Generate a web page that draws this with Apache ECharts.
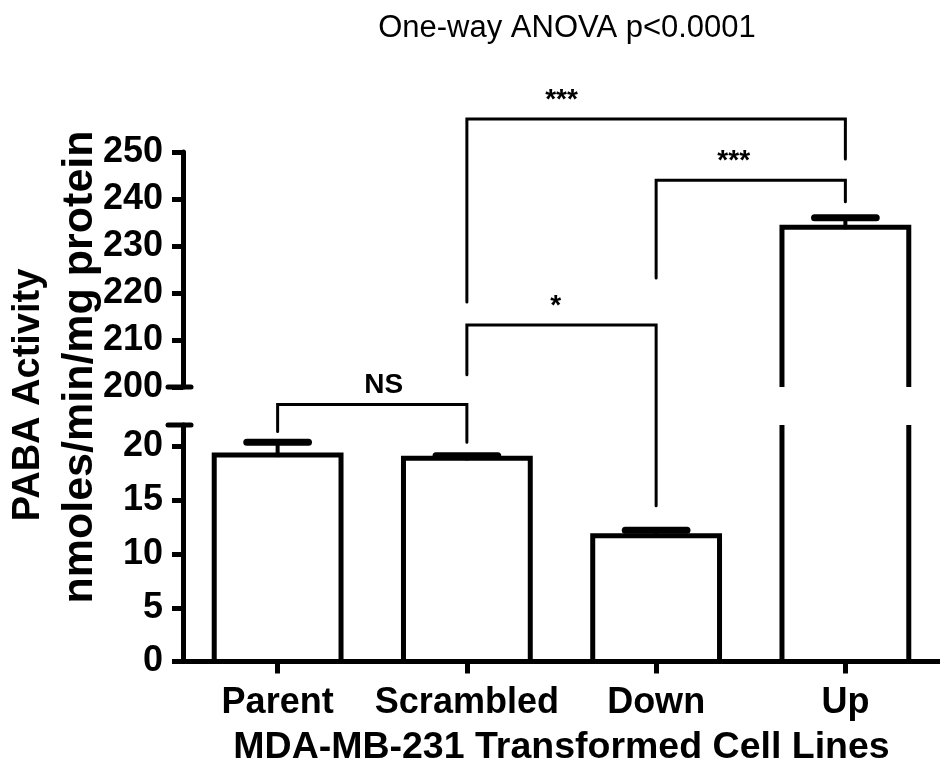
<!DOCTYPE html>
<html><head><meta charset="utf-8">
<script src="https://cdn.jsdelivr.net/npm/echarts@6/dist/echarts.min.js"></script>
<style>html,body{margin:0;padding:0;background:#fff}#c{width:940px;height:776px}</style>
</head><body><div id="c"></div>
<script>
// ---- data ----
const categories = ['Parent', 'Scrambled', 'Down', 'Up'];
const meanActivity = [19.2, 18.9, 11.7, 234.0];
const semActivity = [1.2, 0.25, 0.5, 2.0];
const upperTicks = [200, 210, 220, 230, 240, 250];
const lowerTicks = [0, 5, 10, 15, 20];
const upperRange = [200, 250];
const lowerRange = [0, 22];
// significance brackets: [gridIndex (0 = upper, 1 = lower), value]
const bracketFrom = [0, 1, 2, 1];
const bracketTo = [1, 2, 3, 3];
const bracketLevel = [[1, 23.9], [0, 213.2], [0, 244.0], [0, 257.0]];
const bracketLeftEnd = [[1, 21.4], [0, 202.6], [0, 223.2], [0, 218.1]];
const bracketRightEnd = [[1, 20.4], [1, 14.5], [0, 239.4], [0, 248.5]];
const bracketLabel = ['NS', '*', '***', '***'];
const bracketLabelAt = [0.56, 0.47, 0.41, 0.25];
const titleText = 'One-way ANOVA p<0.0001';
const yTitle = 'PABA Activity';
const yUnit = 'nmoles/min/mg protein';
const xTitle = 'MDA-MB-231 Transformed Cell Lines';

// ---- layout / style ----
const FONT = '"Liberation Sans", Arial, Helvetica, sans-serif';
const GRID_LEFT = 183, GRID_W = 764;
const chart = echarts.init(document.getElementById('c'));

const barData = categories.map((c, i) => [i, meanActivity[i], semActivity[i]]);

function makeBarRender(range) {
  return function (params, api) {
    const i = api.value(0), v = api.value(1);
    if (v <= range[0]) return null;
    const half = api.size([1, 0])[0] * 0.335;
    const base = api.coord([i, range[0]]);
    const clipped = v > range[1];
    const top = api.coord([i, Math.min(v, range[1])]);
    const st = { stroke: '#000', lineWidth: 5, fill: null, lineJoin: 'miter' };
    if (clipped) {
      return { type: 'group', children: [
        { type: 'line', shape: { x1: base[0] - half, y1: base[1], x2: top[0] - half, y2: top[1] }, style: st },
        { type: 'line', shape: { x1: base[0] + half, y1: base[1], x2: top[0] + half, y2: top[1] }, style: st }
      ] };
    }
    return { type: 'polyline', shape: { points: [
      [base[0] - half, base[1]], [top[0] - half, top[1]], [top[0] + half, top[1]], [base[0] + half, base[1]]
    ] }, style: st };
  };
}
function makeErrRender(range) {
  return function (params, api) {
    const i = api.value(0), m = api.value(1), s = api.value(2);
    if (m < range[0] || m + s > range[1]) return null;
    const p0 = api.coord([i, m]), p1 = api.coord([i, m + s]);
    const capHalf = api.size([1, 0])[0] * 0.163;
    return { type: 'group', children: [
      { type: 'line', shape: { x1: p0[0], y1: p0[1] + 2, x2: p1[0], y2: p1[1] }, style: { stroke: '#000', lineWidth: 4 } },
      { type: 'line', shape: { x1: p1[0] - capHalf, y1: p1[1], x2: p1[0] + capHalf, y2: p1[1] }, style: { stroke: '#000', lineWidth: 7, lineCap: 'round' } }
    ] };
  };
}

const yLabel = { fontSize: 36, fontWeight: 'bold', color: '#000', fontFamily: FONT, margin: 20 };
const yLine = { show: true, lineStyle: { color: '#000', width: 5 } };
const yTick = { show: true, length: 11, lineStyle: { color: '#000', width: 5 } };

chart.setOption({
  animation: false,
  backgroundColor: '#fff',
  grid: [
    { left: GRID_LEFT, width: GRID_W, top: 152, height: 235 },
    { left: GRID_LEFT, width: GRID_W, top: 425, height: 236.5 }
  ],
  xAxis: [
    { gridIndex: 0, type: 'category', data: categories, show: false },
    { gridIndex: 1, type: 'category', data: categories,
      axisLine: { show: true, onZero: false, lineStyle: { color: '#000', width: 5 } },
      axisTick: { show: true, alignWithLabel: true, length: 12, lineStyle: { color: '#000', width: 5 } },
      axisLabel: { interval: 0, fontSize: 36, fontWeight: 'bold', color: '#000', fontFamily: FONT, margin: 24 },
      name: xTitle, nameLocation: 'middle', nameGap: 67,
      nameTextStyle: { fontSize: 37.5, fontWeight: 'bold', color: '#000', fontFamily: FONT } }
  ],
  yAxis: [
    { gridIndex: 0, type: 'value', min: upperRange[0], max: upperRange[1], interval: 10,
      axisLine: yLine, axisTick: Object.assign({ customValues: upperTicks }, yTick),
      axisLabel: Object.assign({ customValues: upperTicks }, yLabel), splitLine: { show: false } },
    { gridIndex: 1, type: 'value', min: lowerRange[0], max: lowerRange[1], interval: 5,
      axisLine: yLine, axisTick: Object.assign({ customValues: lowerTicks }, yTick),
      axisLabel: Object.assign({ customValues: lowerTicks }, yLabel), splitLine: { show: false } }
  ],
  series: [
    { type: 'custom', xAxisIndex: 0, yAxisIndex: 0, data: barData, renderItem: makeBarRender(upperRange), clip: false, z: 2 },
    { type: 'custom', xAxisIndex: 1, yAxisIndex: 1, data: barData, renderItem: makeBarRender(lowerRange), clip: false, z: 2 },
    { type: 'custom', xAxisIndex: 0, yAxisIndex: 0, data: barData, renderItem: makeErrRender(upperRange), clip: false, z: 3 },
    { type: 'custom', xAxisIndex: 1, yAxisIndex: 1, data: barData, renderItem: makeErrRender(lowerRange), clip: false, z: 3 }
  ]
});

// ---- annotations computed through the chart's scales ----
function px(gridIndex, cat, val) { return chart.convertToPixel({ gridIndex: gridIndex }, [cat, val]); }
const graphics = [];
graphics.push({ type: 'text', x: 567, y: 28, style: { text: titleText, fontSize: 31, fontFamily: FONT, fill: '#000', align: 'center', verticalAlign: 'middle' } });
graphics.push({ type: 'text', x: 29, y: 395, rotation: Math.PI / 2, style: { text: yTitle, fontSize: 38, fontWeight: 'bold', fontFamily: FONT, fill: '#000', align: 'center', verticalAlign: 'middle' } });
graphics.push({ type: 'text', x: 80, y: 367, rotation: Math.PI / 2, style: { text: yUnit, fontSize: 43, fontWeight: 'bold', fontFamily: FONT, fill: '#000', align: 'center', verticalAlign: 'middle' } });
// axis-break caps
const yUpBottom = chart.convertToPixel({ yAxisIndex: 0 }, upperRange[0]);
const yLoTop = chart.convertToPixel({ yAxisIndex: 1 }, lowerRange[1]);
[yUpBottom, yLoTop].forEach(y => graphics.push({ type: 'line', shape: { x1: GRID_LEFT - 15, y1: y, x2: GRID_LEFT + 8, y2: y }, style: { stroke: '#000', lineWidth: 5, lineCap: 'round' }, z: 10 }));
for (let k = 0; k < bracketLabel.length; k++) {
  const lv = bracketLevel[k], le = bracketLeftEnd[k], re = bracketRightEnd[k];
  const a = px(lv[0], bracketFrom[k], lv[1]);
  const b = px(lv[0], bracketTo[k], lv[1]);
  const l = px(le[0], bracketFrom[k], le[1]);
  const r = px(re[0], bracketTo[k], re[1]);
  graphics.push({ type: 'polyline', shape: { points: [[l[0], l[1]], [a[0], a[1]], [b[0], b[1]], [r[0], r[1]]] },
    style: { stroke: '#000', lineWidth: 3, lineCap: 'round', lineJoin: 'miter', fill: null }, z: 10 });
  const lx = a[0] + (b[0] - a[0]) * bracketLabelAt[k];
  graphics.push({ type: 'text', x: lx, y: a[1] - 19, style: { text: bracketLabel[k], fontSize: 28, fontWeight: 'bold', fontFamily: FONT, fill: '#000', align: 'center', verticalAlign: 'middle' }, z: 10 });
}
chart.setOption({ graphic: graphics });
</script></body></html>
